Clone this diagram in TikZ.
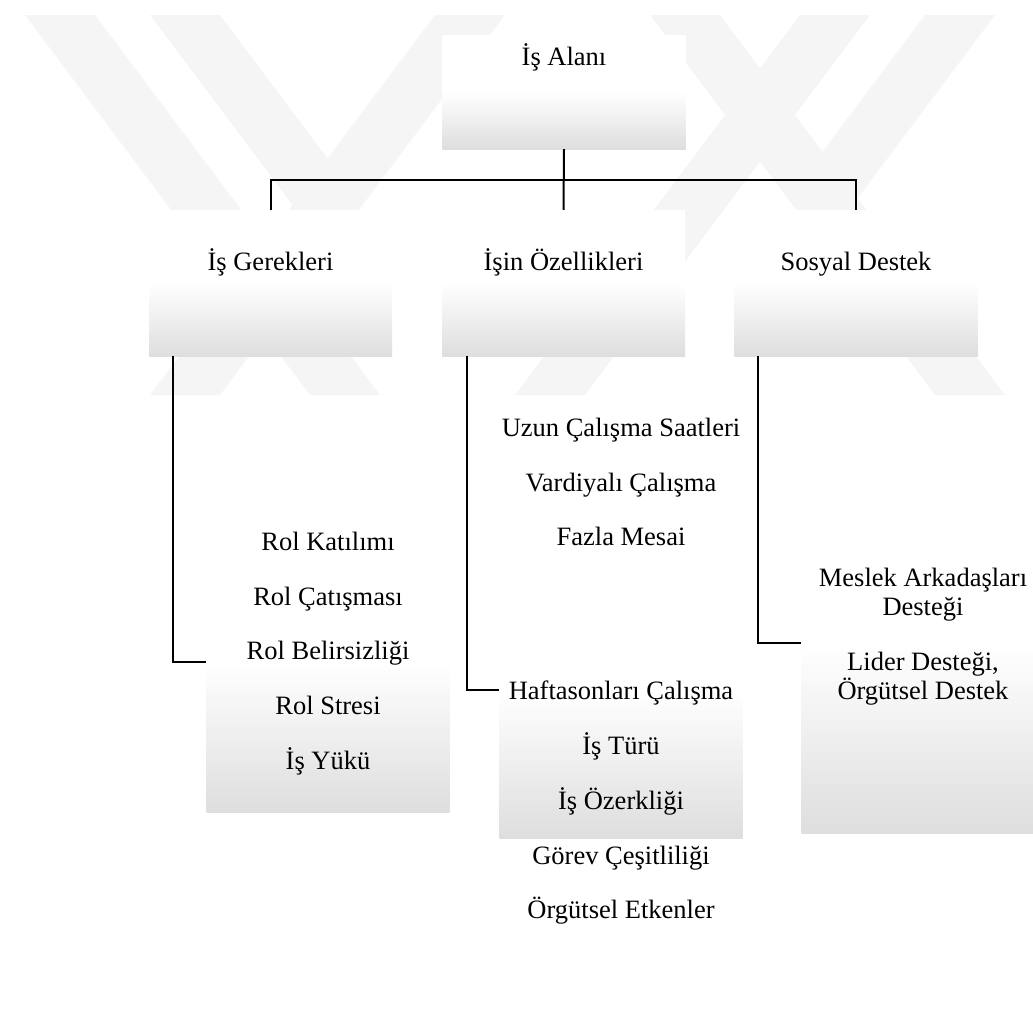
\documentclass[tikz,border=0pt]{standalone}
\usepackage{fontspec}
\setmainfont{Liberation Serif}
\begin{document}
\begin{tikzpicture}[x=1pt,y=-1pt,
  box/.style={draw=none, rectangle, inner sep=0pt, top color=white, bottom color=black!13, middle color=white, minimum width=243pt},
  txt/.style={font=\fontsize{26.5}{28.5}\selectfont, inner sep=0pt, align=center, text=black, anchor=base},
  conn/.style={line width=2pt, draw=black},
  wm/.style={fill=black!4, draw=none}]
\useasboundingbox (0,0) rectangle (1033,1020);
\clip (0,0) rectangle (1033,1020);
% watermark
\fill[wm] (25,15) -- (95,15) -- (380,395) -- (310,395) -- cycle;
\fill[wm] (150,395) -- (220,395) -- (505,15) -- (435,15) -- cycle;
\fill[wm] (150,15) -- (220,15) -- (327.5,158.3) -- (292.5,205) -- cycle;
\fill[wm] (800,15) -- (870,15) -- (585,395) -- (515,395) -- cycle;
\fill[wm] (650,15) -- (720,15) -- (1005,395) -- (935,395) -- cycle;
\fill[wm] (925,15) -- (995,15) -- (857.5,198.3) -- (822.5,151.7) -- cycle;
% boxes
\node[box, minimum height=114pt] (top) at (564,92) {};
\node[box, minimum height=146pt] (g1) at (270.5,283) {};
\node[box, minimum height=146pt] (g2) at (563.5,283) {};
\node[box, minimum height=146pt] (g3) at (856,283) {};
\node[box, minimum height=300pt] (l1) at (328,662) {};
\node[box, minimum height=296pt] (m1) at (621,690) {};
\node[box, minimum height=380pt] (r1) at (923,643) {};
% connectors
\draw[conn] (top.south) -- (g2.north);
\draw[conn] (g1.north) -- ++(0,-30) -| (g3.north);
\draw[conn] ([xshift=24pt]g1.south west) |- (l1.west);
\draw[conn] ([xshift=25pt]g2.south west) |- (m1.west);
\draw[conn] ([xshift=24pt]g3.south west) |- (r1.west);
% texts
\node[txt] (t0) at (564,65) {İş Alanı};
\node[txt] (t1) at (270.5,270) {İş Gerekleri};
\node[txt] (t2) at (563.5,270) {İşin Özellikleri};
\node[txt] (t3) at (856,270) {Sosyal Destek};
\node[txt] (a1) at (328,550) {Rol Katılımı};
\node[txt] (a2) at (328,605) {Rol Çatışması};
\node[txt] (a3) at (328,659) {Rol Belirsizliği};
\node[txt] (a4) at (328,714) {Rol Stresi};
\node[txt] (a5) at (328,769) {İş Yükü};
\node[txt] (b1) at (621,436) {Uzun Çalışma Saatleri};
\node[txt] (b2) at (621,491) {Vardiyalı Çalışma};
\node[txt] (b3) at (621,545) {Fazla Mesai};
\node[txt] (b4) at (621,699) {Haftasonları Çalışma};
\node[txt] (b5) at (621,754) {İş Türü};
\node[txt] (b6) at (621,809) {İş Özerkliği};
\node[txt] (b7) at (621,864) {Görev Çeşitliliği};
\node[txt] (b8) at (621,918) {Örgütsel Etkenler};
\node[txt] (c1) at (923,615) {Meslek Arkadaşları\\Desteği};
\node[txt] (c2) at (923,699) {Lider Desteği,\\Örgütsel Destek};
\end{tikzpicture}
\end{document}
